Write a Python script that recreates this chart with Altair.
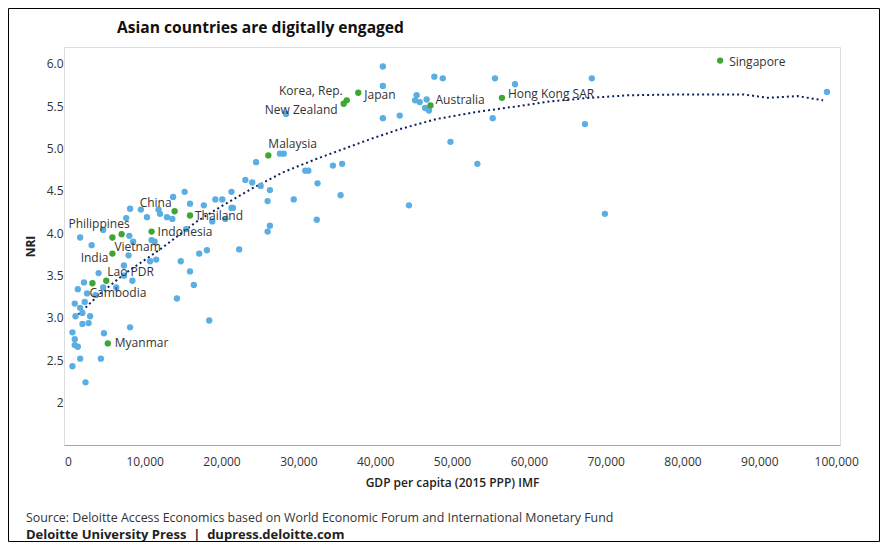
import altair as alt
import pandas as pd

# ---- data ----
other_gdp = [13700, 15200, 8100, 9500, 11800, 12000, 12900, 13600, 7600, 10300,
             4600, 8000, 1600, 3100, 7900, 10900, 11300, 10700, 11500, 7300,
             14700, 15900, 4000, 7300, 2100, 1300, 4600, 6300, 2500, 3600,
             14200, 900, 2200, 1600, 1000, 1900, 2900, 1900, 2700, 8100,
             600, 4700, 900, 900, 1300, 1600, 4300, 600, 2300, 8500,
             8400, 16400, 18400, 27600, 28100, 24500, 30900, 31300, 23100, 24000,
             25100, 26300, 32500, 21300, 15900, 17700, 19200, 20100, 21300, 21500,
             26000, 29400, 18800, 20500, 15400, 26300, 26000, 32400, 17100, 18100,
             22300, 41000, 41000, 47700, 48800, 55600, 58200, 45400, 45200, 45800,
             46700, 46500, 47000, 41000, 43200, 55300, 49800, 53300, 34500, 35700,
             35500, 44400, 28400, 68200, 67300, 69900, 98800]
other_nri = [4.43, 4.49, 4.29, 4.28, 4.28, 4.23, 4.19, 4.17, 4.18, 4.19,
             4.04, 3.97, 3.95, 3.86, 3.74, 3.92, 3.90, 3.67, 3.69, 3.62,
             3.67, 3.55, 3.53, 3.50, 3.42, 3.34, 3.36, 3.36, 3.29, 3.27,
             3.23, 3.17, 3.19, 3.12, 3.02, 3.06, 3.02, 2.93, 2.94, 2.89,
             2.83, 2.82, 2.75, 2.68, 2.66, 2.52, 2.52, 2.43, 2.24, 3.90,
             3.44, 3.39, 2.97, 4.94, 4.94, 4.84, 4.74, 4.74, 4.63, 4.60,
             4.56, 4.51, 4.59, 4.49, 4.35, 4.33, 4.40, 4.40, 4.30, 4.30,
             4.38, 4.40, 4.14, 4.17, 4.05, 4.09, 4.02, 4.16, 3.76, 3.80,
             3.81, 5.97, 5.74, 5.85, 5.83, 5.83, 5.76, 5.63, 5.57, 5.55,
             5.58, 5.48, 5.45, 5.36, 5.39, 5.36, 5.08, 4.82, 4.80, 4.82,
             4.45, 4.33, 5.41, 5.83, 5.29, 4.23, 5.67]

asia_names = ["Singapore", "Hong Kong SAR", "Australia", "Japan", "Korea, Rep.",
              "New Zealand", "Malaysia", "China", "Thailand", "Indonesia",
              "Philippines", "Vietnam", "India", "Lao PDR", "Cambodia", "Myanmar"]
asia_gdp = [84900, 56500, 47200, 37800, 36300, 35900, 26100, 13900, 15900, 10900,
            7000, 5800, 5800, 5000, 3200, 5200]
asia_nri = [6.04, 5.60, 5.51, 5.66, 5.57, 5.53, 4.92, 4.26, 4.21, 4.02,
            3.99, 3.95, 3.76, 3.44, 3.41, 2.70]

trend_gdp = [900, 4000, 7200, 12000, 16800, 20000, 24000, 28000, 32400, 36000,
             39300, 43200, 48000, 53000, 58500, 63000, 68000, 73000, 80000, 88000,
             91000, 95000, 98300]
trend_nri = [3.00, 3.27, 3.51, 3.81, 4.14, 4.32, 4.53, 4.72, 4.88, 5.00,
             5.11, 5.23, 5.35, 5.43, 5.50, 5.56, 5.60, 5.63, 5.64, 5.64,
             5.60, 5.62, 5.57]

x_ticks = [0, 10000, 20000, 30000, 40000, 50000, 60000, 70000, 80000, 90000, 100000]
y_ticks = [2, 2.5, 3, 3.5, 4, 4.5, 5, 5.5, 6]

title_text = "Asian countries are digitally engaged"
source_text = "Source: Deloitte Access Economics based on World Economic Forum and International Monetary Fund"
press_text = "Deloitte University Press\u00a0\u00a0|\u00a0\u00a0dupress.deloitte.com"

# label placement (style only): name -> (dx, dy, align)
label_style = {
    "Singapore": (9, 1, "left"), "Hong Kong SAR": (6, -4, "left"),
    "Australia": (5, -5, "left"), "Japan": (6, 2, "left"),
    "Korea, Rep.": (-4, -9, "right"), "New Zealand": (-6, 6, "right"),
    "Malaysia": (0, -11, "left"), "China": (-3, -8, "right"),
    "Thailand": (5, 0, "left"), "Indonesia": (6, 0, "left"),
    "Philippines": (8, -10, "right"), "Vietnam": (2, 9, "left"),
    "India": (-4, 4, "right"), "Lao PDR": (1, -9, "left"),
    "Cambodia": (-3, 10, "left"), "Myanmar": (7, 0, "left"),
}

FONT = "Open Sans"
others = pd.DataFrame({"gdp": other_gdp, "nri": other_nri})
asia = pd.DataFrame({"name": asia_names, "gdp": asia_gdp, "nri": asia_nri})
trend = pd.DataFrame({"gdp": trend_gdp, "nri": trend_nri})
one = pd.DataFrame({"k": [0]})

x_enc = alt.X("gdp:Q",
              scale=alt.Scale(domain=[-500, 100500], nice=False, zero=False),
              axis=alt.Axis(values=x_ticks, format=",d", ticks=False, grid=False,
                            domainColor="#a6a6a6", labelFlush=False, labelOverlap=False,
                            labelFont=FONT, labelFontSize=12, labelColor="#333333",
                            labelPadding=11, title="GDP per capita (2015 PPP) IMF",
                            titleFont=FONT, titleFontSize=12, titleFontWeight=600,
                            titleColor="#222222", titlePadding=10))
y_enc = alt.Y("nri:Q",
              scale=alt.Scale(domain=[1.5, 6.2], nice=False, zero=False),
              axis=alt.Axis(values=y_ticks,
                            labelExpr="datum.value == 2 ? '2' : format(datum.value, '.1f')",
                            domain=False, ticks=False, grid=False,
                            labelFont=FONT, labelFontSize=12, labelColor="#333333",
                            labelPadding=1, title="NRI", titleFont=FONT,
                            titleFontSize=12, titleFontWeight="bold",
                            titleColor="#222222", titlePadding=9))

layers = []
layers.append(alt.Chart(trend).mark_line(color="#0b2160", strokeWidth=2,
                                          strokeDash=[2, 3]).encode(x=x_enc, y=y_enc))
layers.append(alt.Chart(others).mark_circle(size=40, color="#5aaee3", opacity=1)
              .encode(x=x_enc, y=y_enc))
layers.append(alt.Chart(asia).mark_circle(size=40, color="#3fa535", opacity=1)
              .encode(x=x_enc, y=y_enc))
for nm in asia_names:
    dx, dy, al = label_style[nm]
    layers.append(
        alt.Chart(asia).transform_filter(alt.datum.name == nm)
        .mark_text(dx=dx, dy=dy, align=al, baseline="middle", font=FONT,
                   fontSize=12, color="#333333")
        .encode(x=x_enc, y=y_enc, text="name:N"))

# title, footer and frame
layers.append(alt.Chart(one).mark_text(text=title_text, font=FONT, fontSize=15.6,
                                       fontWeight="bold", color="#111111",
                                       align="left", baseline="middle")
              .encode(x=alt.value(53), y=alt.value(-19)))
layers.append(alt.Chart(one).mark_text(text=source_text, font=FONT, fontSize=12.4,
                                       color="#333333", align="left", baseline="middle")
              .encode(x=alt.value(-38), y=alt.value(471)))
layers.append(alt.Chart(one).mark_text(text=press_text, font=FONT, fontSize=13,
                                       fontWeight="bold", color="#222222",
                                       align="left", baseline="middle")
              .encode(x=alt.value(-38), y=alt.value(488)))
layers.append(alt.Chart(one).mark_rect(fill="transparent", stroke="#000000",
                                       strokeWidth=1)
              .encode(x=alt.value(-55.5), x2=alt.value(815.5),
                      y=alt.value(-38.5), y2=alt.value(494.5)))

chart = alt.layer(*layers).properties(
    width=776, height=398,
    autosize=alt.AutoSizeParams(type="none"),
    padding={"left": 56, "top": 39, "right": 41, "bottom": 98},
).configure_view(stroke=None).configure(font=FONT)

chart.save("out.html", embed_options={"renderer": "svg", "actions": False})
